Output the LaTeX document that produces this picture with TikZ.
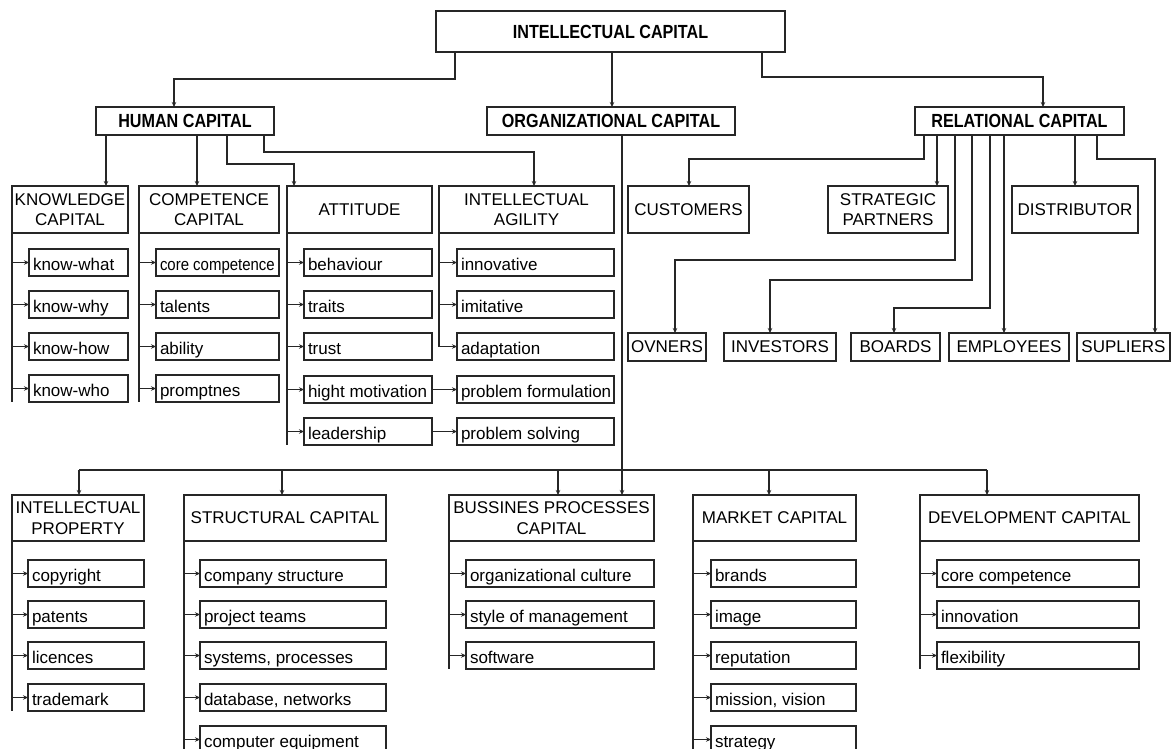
\documentclass[tikz,border=0pt]{standalone}
\usepackage{fontspec}
\setmainfont{Liberation Sans}
\usetikzlibrary{arrows.meta}
\tikzset{
  ln/.style={line width=1.1pt, draw=black!85},
  arr/.style={ln, -{Stealth[length=5pt,width=4.5pt]}},
  boxbase/.style={draw=black!85, line width=1.1pt, inner sep=0pt, outer sep=0pt, anchor=north west, font=\fontsize{17}{20.5}\selectfont},
  itembox/.style={boxbase, inner xsep=4pt},
  hdrbox/.style={boxbase, align=center, inner xsep=1pt},
  topbox/.style={boxbase, align=center, font=\fontsize{19}{22}\selectfont\bfseries},
}
\newcommand\Itm[6]{\pgfmathsetmacro\bh{#5-#3}\pgfmathsetmacro\tw{#4-#2-8}%
  \node[itembox, minimum height=\bh pt] (#1) at (#2,#3) {\rule[-4pt]{0pt}{23pt}\makebox[\tw pt][l]{#6}};}
\newcommand\Hdr[6]{\pgfmathsetmacro\bw{#4-#2}\pgfmathsetmacro\bh{#5-#3}%
  \node[hdrbox, minimum width=\bw pt, minimum height=\bh pt] (#1) at (#2,#3) {#6};}
\newcommand\Top[6]{\pgfmathsetmacro\bw{#4-#2}\pgfmathsetmacro\bh{#5-#3}%
  \node[topbox, minimum width=\bw pt, minimum height=\bh pt] (#1) at (#2,#3) {\scalebox{0.85}[1]{#6}};}
\begin{document}
\begin{tikzpicture}[x=1pt,y=-1pt]
\useasboundingbox (0,0) rectangle (1171,749);
\clip (0,0) rectangle (1171,749);
% top level
\Top{ic}{436}{11}{785}{52}{INTELLECTUAL CAPITAL}
\Top{hc}{96}{107}{274}{135}{HUMAN CAPITAL}
\Top{oc}{487}{107}{735}{135}{ORGANIZATIONAL CAPITAL}
\Top{rc}{915}{107}{1124}{135}{RELATIONAL CAPITAL}
% second level headers
\Hdr{kc}{12}{186}{128}{233}{KNOWLEDGE\\CAPITAL}
\Hdr{cc}{139}{186}{279}{233}{COMPETENCE\\CAPITAL}
\Hdr{att}{287}{186}{432}{233}{ATTITUDE}
\Hdr{ia}{439}{186}{614}{233}{INTELLECTUAL\\AGILITY}
\Hdr{cu}{628}{186}{749}{233}{CUSTOMERS}
\Hdr{sp}{828}{186}{948}{233}{STRATEGIC\\PARTNERS}
\Hdr{di}{1012}{186}{1138}{233}{DISTRIBUTOR}
% relational bottom row
\Hdr{ov}{628}{333}{706}{361}{OVNERS}
\Hdr{inv}{724}{333}{836}{361}{INVESTORS}
\Hdr{bo}{851}{333}{940}{361}{BOARDS}
\Hdr{em}{949}{333}{1069}{361}{EMPLOYEES}
\Hdr{su}{1077}{333}{1170}{361}{SUPLIERS}
% knowledge items
\Itm{k1}{29}{249}{128}{276}{know-what}
\Itm{k2}{29}{291}{128}{318}{know-why}
\Itm{k3}{29}{333}{128}{360}{know-how}
\Itm{k4}{29}{375}{128}{402}{know-who}
% competence items
\Itm{c1}{156}{249}{279}{276}{\scalebox{0.88}[1]{core competence}}
\Itm{c2}{156}{291}{279}{318}{talents}
\Itm{c3}{156}{333}{279}{360}{ability}
\Itm{c4}{156}{375}{279}{402}{promptnes}
% attitude items
\Itm{t1}{304}{249}{432}{276}{behaviour}
\Itm{t2}{304}{291}{432}{318}{traits}
\Itm{t3}{304}{333}{432}{360}{trust}
\Itm{t4}{304}{376}{432}{403}{hight motivation}
\Itm{t5}{304}{418}{432}{445}{leadership}
% agility items
\Itm{g1}{457}{249}{614}{276}{innovative}
\Itm{g2}{457}{291}{614}{318}{imitative}
\Itm{g3}{457}{333}{614}{360}{adaptation}
\Itm{g4}{457}{376}{614}{403}{problem formulation}
\Itm{g5}{457}{418}{614}{445}{problem solving}
% third level headers
\Hdr{ip}{12}{495}{144}{541}{INTELLECTUAL\\PROPERTY}
\Hdr{sc}{184}{495}{386}{541}{STRUCTURAL CAPITAL}
\Hdr{bp}{449}{495}{654}{541}{BUSSINES PROCESSES\\CAPITAL}
\Hdr{mc}{693}{495}{856}{541}{MARKET CAPITAL}
\Hdr{dc}{920}{495}{1139}{541}{DEVELOPMENT CAPITAL}
% IP items
\Itm{p1}{28}{560}{144}{587}{copyright}
\Itm{p2}{28}{601}{144}{628}{patents}
\Itm{p3}{28}{642}{144}{669}{licences}
\Itm{p4}{28}{684}{144}{711}{trademark}
% structural items
\Itm{s1}{200}{560}{386}{587}{company structure}
\Itm{s2}{200}{601}{386}{628}{project teams}
\Itm{s3}{200}{642}{386}{669}{systems, processes}
\Itm{s4}{200}{684}{386}{711}{database, networks}
\Itm{s5}{200}{726}{386}{753}{computer equipment}
% business items
\Itm{q1}{466}{560}{654}{587}{organizational culture}
\Itm{q2}{466}{601}{654}{628}{style of management}
\Itm{q3}{466}{642}{654}{669}{software}
% market items
\Itm{m1}{711}{560}{856}{587}{brands}
\Itm{m2}{711}{601}{856}{628}{image}
\Itm{m3}{711}{642}{856}{669}{reputation}
\Itm{m4}{711}{684}{856}{711}{mission, vision}
\Itm{m5}{711}{726}{856}{753}{strategy}
% development items
\Itm{d1}{937}{560}{1139}{587}{core competence}
\Itm{d2}{937}{601}{1139}{628}{innovation}
\Itm{d3}{937}{642}{1139}{669}{flexibility}
% top connectors
\draw[arr] ([xshift=19pt]ic.south west) -- ++(0,27) -| ([xshift=78pt]hc.north west);
\draw[arr] ([xshift=176pt]ic.south west) -- ([xshift=125pt]oc.north west);
\draw[arr] ([xshift=326pt]ic.south west) -- ++(0,25) -| ([xshift=128pt]rc.north west);
% human capital branches
\coordinate (h1) at ([xshift=10pt]hc.south west);
\coordinate (h2) at ([xshift=101pt]hc.south west);
\coordinate (h3) at ([xshift=131pt]hc.south west);
\coordinate (h4) at ([xshift=168pt]hc.south west);
\draw[arr] (h1) -- (h1 |- kc.north);
\draw[arr] (h2) -- (h2 |- cc.north);
\draw[arr] (h3) -- ++(0,29) -| ([xshift=7pt]att.north west);
\draw[arr] (h4) -- ++(0,17) -| ([xshift=95pt]ia.north west);
% organizational line
\coordinate (o1) at ([xshift=135pt]oc.south west);
\draw[arr] (o1) -- (o1 |- bp.north);
% relational branches
\coordinate (r1) at ([xshift=9pt]rc.south west);
\coordinate (r2) at ([xshift=22pt]rc.south west);
\coordinate (r3) at ([xshift=40pt]rc.south west);
\coordinate (r4) at ([xshift=57pt]rc.south west);
\coordinate (r5) at ([xshift=75pt]rc.south west);
\coordinate (r6) at ([xshift=89pt]rc.south west);
\coordinate (r7) at ([xshift=160pt]rc.south west);
\coordinate (r8) at ([xshift=182pt]rc.south west);
\draw[arr] (r1) -- ++(0,24) -| ([xshift=61pt]cu.north west);
\draw[arr] (r2) -- (r2 |- sp.north);
\draw[arr] (r3) -- ++(0,125) -| ([xshift=47pt]ov.north west);
\draw[arr] (r4) -- ++(0,145) -| ([xshift=46pt]inv.north west);
\draw[arr] (r5) -- ++(0,173) -| ([xshift=43pt]bo.north west);
\draw[arr] (r6) -- (r6 |- em.north);
\draw[arr] (r7) -- (r7 |- di.north);
\draw[arr] (r8) -- ++(0,24) -| ([xshift=78pt]su.north west);
% brackets, upper groups
\draw[ln] (kc.south west) -- (kc.south west |- k4.south);
\foreach \i in {1,...,4} \draw[arr] (kc.south west |- k\i.west) -- (k\i.west);
\draw[ln] (cc.south west) -- (cc.south west |- c4.south);
\foreach \i in {1,...,4} \draw[arr] (cc.south west |- c\i.west) -- (c\i.west);
\draw[ln] (att.south west) -- (att.south west |- t5.south);
\foreach \i in {1,...,5} \draw[arr] (att.south west |- t\i.west) -- (t\i.west);
\draw[arr] (ia.south west) |- (g3.west);
\foreach \i in {1,2} \draw[arr] (ia.south west |- g\i.west) -- (g\i.west);
\draw[arr] (t4.east) -- (g4.west);
\draw[arr] (t5.east) -- (g5.west);
% bus to lower groups
\coordinate (b1) at (79,470);
\coordinate (b2) at (282,470);
\coordinate (b3) at (558,470);
\coordinate (b4) at (769,470);
\coordinate (b5) at (987,470);
\draw[ln] (b1) -- (b5);
\draw[arr] (b1) -- (b1 |- ip.north);
\draw[arr] (b2) -- (b2 |- sc.north);
\draw[arr] (b3) -- (b3 |- bp.north);
\draw[arr] (b4) -- (b4 |- mc.north);
\draw[arr] (b5) -- (b5 |- dc.north);
% brackets, lower groups
\draw[ln] (ip.south west) -- (ip.south west |- p4.south);
\foreach \i in {1,...,4} \draw[arr] (ip.south west |- p\i.west) -- (p\i.west);
\draw[ln] (sc.south west) -- (sc.south west |- s5.south);
\foreach \i in {1,...,5} \draw[arr] (sc.south west |- s\i.west) -- (s\i.west);
\draw[ln] (bp.south west) -- (bp.south west |- q3.south);
\foreach \i in {1,...,3} \draw[arr] (bp.south west |- q\i.west) -- (q\i.west);
\draw[ln] (mc.south west) -- (mc.south west |- m5.south);
\foreach \i in {1,...,5} \draw[arr] (mc.south west |- m\i.west) -- (m\i.west);
\draw[ln] (dc.south west) -- (dc.south west |- d3.south);
\foreach \i in {1,...,3} \draw[arr] (dc.south west |- d\i.west) -- (d\i.west);
\end{tikzpicture}
\end{document}
